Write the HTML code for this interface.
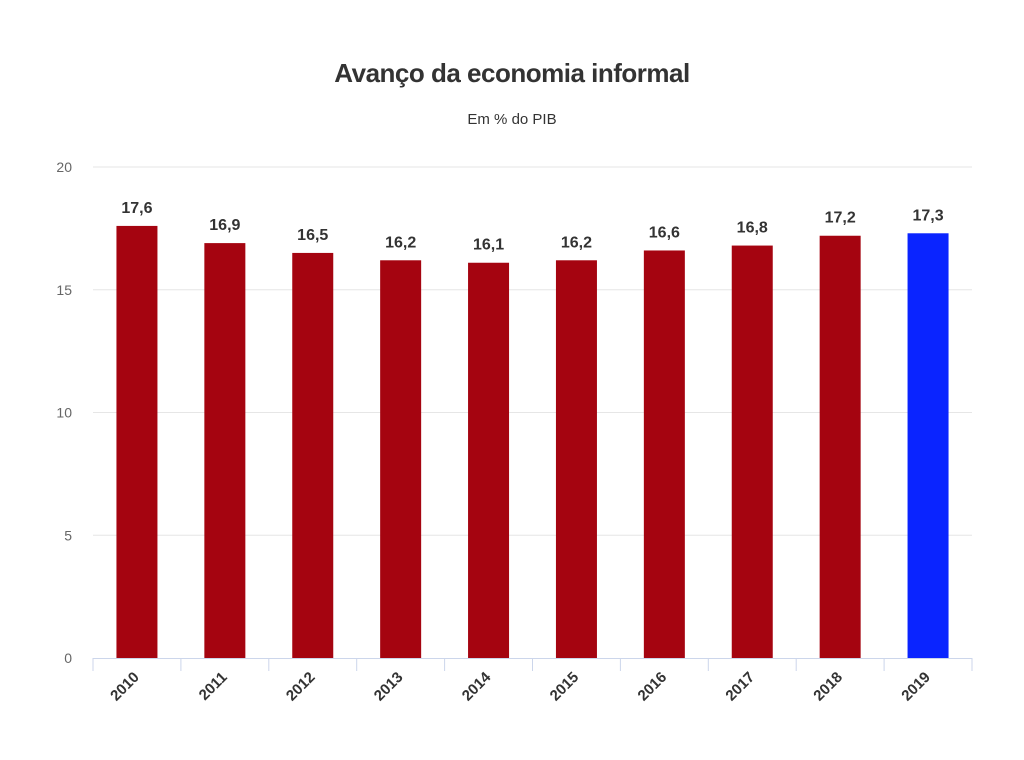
<!DOCTYPE html>
<html><head><meta charset="utf-8"><style>
body{margin:0;background:#fff;font-family:"Liberation Sans",sans-serif;}
</style></head><body>
<svg id="chart" width="1024" height="755" xmlns="http://www.w3.org/2000/svg">
<rect width="1024" height="755" fill="#fff"/>
<text x="512" y="82" text-anchor="middle" font-size="26" font-weight="bold" fill="#333" letter-spacing="-0.5">Avanço da economia informal</text>
<text x="512" y="124" text-anchor="middle" font-size="15" fill="#333">Em % do PIB</text>
<g id="grid"></g><g id="bars"></g><g id="labels"></g><g id="xaxis"></g>
</svg>
<script>
const categories=["2010","2011","2012","2013","2014","2015","2016","2017","2018","2019"];
const values=[17.6,16.9,16.5,16.2,16.1,16.2,16.6,16.8,17.2,17.3];
const yTicks=[0,5,10,15,20];
const highlight=["2019"];
const NS="http://www.w3.org/2000/svg";
const X0=93,X1=972,Y0=658,Y1=167,YMAX=20;
const band=(X1-X0)/categories.length;
function y(v){return Y0-(v/YMAX)*(Y0-Y1);}
function x(i){return X0+band*i;}
function mk(t,a,p){const e=document.createElementNS(NS,t);for(const k in a)e.setAttribute(k,a[k]);p.appendChild(e);return e;}
const g=document.getElementById('grid'),b=document.getElementById('bars'),l=document.getElementById('labels'),xa=document.getElementById('xaxis');
yTicks.forEach(t=>{
 if(t>0){const ln=mk('line',{x1:X0,x2:X1,y1:y(t),y2:y(t),stroke:'#e6e6e6','stroke-width':1},g);
 
 }
 const tx=mk('text',{x:72,y:y(t)+5,'text-anchor':'end','font-size':14,fill:'#666'},g);tx.textContent=t;
 
 
});
categories.forEach((c,i)=>{
 const bw=41,cx=x(i)+band/2;
 const r=mk('rect',{x:cx-bw/2,y:y(values[i]),width:bw,height:Y0-y(values[i]),fill:highlight.includes(c)?'#0a24ff':'#a50410'},b);
 
 
 const t=mk('text',{x:cx,y:y(values[i])-13,'text-anchor':'middle','font-size':16,'font-weight':'bold',fill:'#333'},l);
 t.textContent=values[i].toFixed(1).replace('.',',');
 
 
 const xl=mk('text',{x:cx+3,y:Y0+20,'text-anchor':'end','font-size':15,'font-weight':'bold',fill:'#333',transform:`rotate(-45 ${cx+3} ${Y0+20})`},xa);
 xl.textContent=c;
 
 
});
for(let i=0;i<=categories.length;i++){
 const tk=mk('line',{x1:x(i),x2:x(i),y1:Y0,y2:Y0+13,stroke:'#ccd6eb','stroke-width':1},xa);
 
 
}
const ax=mk('line',{x1:X0,x2:X1,y1:Y0+0.5,y2:Y0+0.5,stroke:'#ccd6eb','stroke-width':1},xa);


</script>
</body></html>
